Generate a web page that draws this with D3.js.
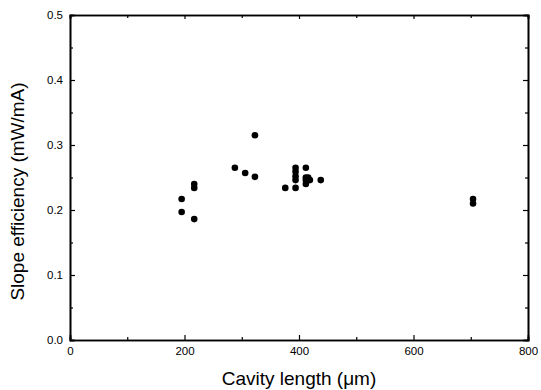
<!DOCTYPE html>
<html>
<head>
<meta charset="utf-8">
<script src="https://cdn.jsdelivr.net/npm/d3@7"></script>
<style>
  body { margin: 0; background: #fff; }
  svg { display: block; }
</style>
</head>
<body>
<div id="grafico"></div>
<script>
// dados
const comprimento = [195, 195, 217, 217, 217, 288, 306, 323, 323,
                     376, 394, 394, 394, 394, 394, 412, 412, 412, 412, 416, 419, 438,
                     704, 704]
const eficiencia = [0.217, 0.197, 0.240, 0.234, 0.186, 0.265, 0.257, 0.251, 0.315,
                    0.234, 0.234, 0.265, 0.259, 0.252, 0.246, 0.265, 0.250, 0.246, 0.240, 0.250, 0.246, 0.246,
                    0.217, 0.210]
const ticksX = [0, 200, 400, 600, 800]
const ticksY = [0.0, 0.1, 0.2, 0.3, 0.4, 0.5]

let margin = { top: 15, right: 13, bottom: 50, left: 70 }
let width = 541 - margin.left - margin.right
let height = 390 - margin.top - margin.bottom

let svg = d3.select('#grafico').append('svg')
    .attr('width', 541)
    .attr('height', 390)
    .append('g')
    .attr('transform', `translate(${margin.left}, ${margin.top})`)

let x = d3.scaleLinear().domain([0, 800]).range([0, width])
let y = d3.scaleLinear().domain([0, 0.5]).range([height, 0])

// eixos (ticks para dentro)
let eixoX = d3.axisBottom(x).tickValues(ticksX).tickSize(-5).tickPadding(7).tickFormat(d3.format('d'))
let eixoY = d3.axisLeft(y).tickValues(ticksY).tickSize(-5).tickPadding(7).tickFormat(d3.format('.1f'))

let gx = svg.append('g').attr('transform', `translate(0, ${height})`).call(eixoX)
let gy = svg.append('g').call(eixoY)

// ticks menores
let menoresX = d3.range(100, 800, 200)
let menoresY = d3.range(0.05, 0.5, 0.1)
svg.append('g').attr('transform', `translate(0, ${height})`)
    .call(d3.axisBottom(x).tickValues(menoresX).tickSize(-3).tickFormat(''))
svg.append('g')
    .call(d3.axisLeft(y).tickValues(menoresY).tickSize(-3).tickFormat(''))

// eixos do lado direito e de cima
svg.append('g').attr('transform', `translate(${width}, 0)`)
    .call(d3.axisRight(y).tickValues(ticksY).tickSize(-5).tickFormat(''))
svg.append('g').attr('transform', `translate(${width}, 0)`)
    .call(d3.axisRight(y).tickValues(menoresY).tickSize(-3).tickFormat(''))
svg.append('g')
    .call(d3.axisTop(x).tickValues(ticksX).tickSize(-4).tickFormat(''))
svg.append('g')
    .call(d3.axisTop(x).tickValues(menoresX).tickSize(-3).tickFormat(''))

svg.selectAll('.domain').attr('stroke', '#000').attr('stroke-width', 1.6)
svg.selectAll('.tick line').attr('stroke', '#000').attr('stroke-width', 1.2)
svg.selectAll('.tick text')
    .attr('font-family', 'Liberation Sans, Arial, sans-serif')
    .attr('font-size', 11.5)
    .attr('fill', '#000')

// pontos
svg.selectAll('circle')
    .data(comprimento)
    .enter()
    .append('circle')
    .attr('cx', (d) => x(d))
    .attr('cy', (d, i) => y(eficiencia[i]))
    .attr('r', 3.3)
    .attr('fill', '#000')

// rótulos
svg.append('text')
    .attr('x', width / 2)
    .attr('y', height + 45)
    .attr('text-anchor', 'middle')
    .attr('font-family', 'Liberation Sans, Arial, sans-serif')
    .attr('font-size', 19)
    .text('Cavity length (μm)')

svg.append('text')
    .attr('transform', `translate(-46, ${height / 2 + 14}) rotate(-90)`)
    .attr('text-anchor', 'middle')
    .attr('font-family', 'Liberation Sans, Arial, sans-serif')
    .attr('font-size', 19)
    .text('Slope efficiency (mW/mA)')
</script>
</body>
</html>
